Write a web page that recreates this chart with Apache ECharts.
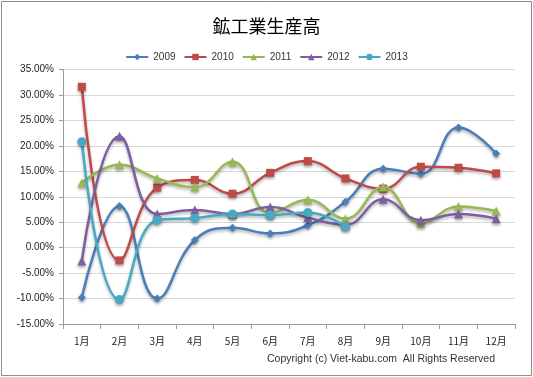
<!DOCTYPE html>
<html><head><meta charset="utf-8">
<script src="https://cdn.jsdelivr.net/npm/echarts@6/dist/echarts.min.js"></script>
<style>html,body{margin:0;padding:0;background:#fff}#c{width:533px;height:377px}</style>
</head><body><div id="c"></div>
<script>
var categories = ['1月','2月','3月','4月','5月','6月','7月','8月','9月','10月','11月','12月'];
var s2009 = [-9.8, 8.2, -10.0, 1.5, 3.9, 2.8, 4.4, 9.0, 15.5, 14.5, 23.6, 18.5];
var s2010 = [31.6, -2.5, 11.8, 13.3, 10.6, 14.7, 17.0, 13.6, 11.6, 15.9, 15.7, 14.6];
var s2011 = [12.7, 16.3, 13.6, 11.9, 16.9, 6.8, 9.4, 5.7, 11.9, 4.8, 8.1, 7.2];
var s2012 = [-2.6, 21.9, 6.6, 7.4, 6.6, 8.0, 5.9, 4.5, 9.5, 5.4, 6.6, 5.7];
var s2013 = [20.8, -10.2, 5.4, 5.8, 6.6, 6.4, 6.9, 4.1];
var seriesNames = ['2009','2010','2011','2012','2013'];
var colors = ['#4A7EBB','#BE4B48','#98B954','#7D5FA0','#46AAC5'];
var symbols = ['diamond','rect','triangle','triangle','circle'];
var symbolSizes = [8, 8, 9, 9, 9];
var dataSets = [s2009, s2010, s2011, s2012, s2013];

var chart = echarts.init(document.getElementById('c'), null, {renderer:'canvas'});
var series = dataSets.map(function(d, i){
  return {
    name: seriesNames[i], type: 'line', data: d, smooth: 0.45,
    symbol: symbols[i], symbolSize: symbolSizes[i],
    showAllSymbol: true,
    itemStyle: {color: colors[i], shadowBlur: 3, shadowColor: 'rgba(0,0,0,0.35)', shadowOffsetY: 2},
    lineStyle: {width: 2.5, color: colors[i], shadowBlur: 3, shadowColor: 'rgba(0,0,0,0.3)', shadowOffsetY: 2},
    emphasis: {disabled: true},
    xAxisIndex: 0, yAxisIndex: 0, z: 3 + i
  };
});
chart.setOption({
  animation: false,
  backgroundColor: '#fff',
  textStyle: {fontFamily: 'Liberation Sans, "Noto Sans CJK JP"'},
  title: {
    text: '鉱工業生産高', left: 'center', top: 12,
    textStyle: {fontFamily: '"Noto Sans CJK JP"', fontSize: 18, fontWeight: 'normal', color: '#000'}
  },
  legend: {
    top: 47, left: 'center', itemWidth: 22, itemHeight: 8, itemGap: 8,
    data: seriesNames,
    textStyle: {fontSize: 10, color: '#333', fontFamily: 'Liberation Sans'}
  },
  grid: {left: 63, right: 18, top: 69.5, bottom: 53, containLabel: false},
  xAxis: [{
    type: 'category', data: categories, boundaryGap: true, position: 'bottom',
    axisLine: {show: false}, axisTick: {show: false},
    axisLabel: {fontSize: 10, color: '#222', margin: 12, fontFamily: '"Noto Sans CJK JP"'},
    splitLine: {show: false}
  },{
    type: 'category', data: categories, boundaryGap: true, position: 'bottom',
    axisLine: {show: true, onZero: true, lineStyle: {color: '#999', width: 1}},
    axisTick: {show: true, length: 5, lineStyle: {color: '#999'}},
    axisLabel: {show: false}, splitLine: {show: false}
  }],
  yAxis: {
    type: 'value', min: -15, max: 35, interval: 5,
    axisLine: {show: true, lineStyle: {color: '#999'}},
    axisTick: {show: true, length: 4, lineStyle: {color: '#999'}},
    axisLabel: {fontSize: 10, color: '#222', margin: 9, formatter: function(v){return v.toFixed(2)+'%';}},
    splitLine: {lineStyle: {color: '#D9D9D9', width: 1}}
  },
  series: series.concat([{type:'line', data: [], xAxisIndex: 1, yAxisIndex: 0}]),
  graphic: [
    {type: 'rect', shape: {x: 1.5, y: 1.5, width: 530, height: 374}, style: {fill: 'none', stroke: '#8C8C8C', lineWidth: 1}, silent: true},
    {type: 'text', right: 38, top: 354, style: {text: 'Copyright (c) Viet-kabu.com  All Rights Reserved', fontSize: 10.5, fill: '#333', fontFamily: 'Liberation Sans'}}
  ]
});
</script></body></html>
